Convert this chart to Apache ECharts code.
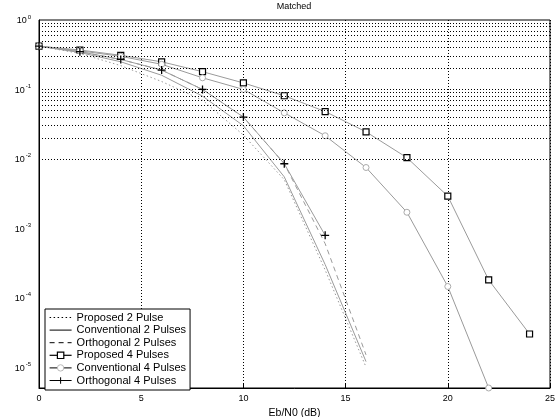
<!DOCTYPE html>
<html>
<head>
<meta charset="utf-8">
<script src="https://cdn.jsdelivr.net/npm/echarts@6/dist/echarts.min.js"></script>
<style>
  html, body { margin: 0; padding: 0; background: #fff; }
  #chart { width: 558px; height: 417px; }
</style>
</head>
<body>
<div id="chart"></div>
<script>
// Eb/N0 sample points (dB)
const snr2 = [0, 2, 4, 6, 8, 10, 12, 14, 16];
const snr4 = [0, 2, 4, 6, 8, 10, 12, 14, 16, 18, 20, 22, 24];

// Bit error rates, matched receiver
const proposed2 = [0.42, 0.33, 0.22, 0.13, 0.07, 0.022, 0.005, 2.5e-4, 1e-5];
const conventional2 = [0.42, 0.34, 0.25, 0.16, 0.08, 0.03, 0.0055, 3e-4, 1.2e-5];
const orthogonal2 = [0.42, 0.35, 0.27, 0.19, 0.10, 0.040, 0.0085, 6e-4, 1.5e-5];
const proposed4 = [0.42, 0.37, 0.31, 0.25, 0.18, 0.124, 0.081, 0.048, 0.0245, 0.0104, 0.0029, 1.8e-4, 3.0e-5];
const conventional4 = [0.42, 0.36, 0.30, 0.23, 0.147, 0.10, 0.046, 0.0215, 0.0075, 0.0017, 1.45e-4, 5e-6];
const orthogonal4 = [0.42, 0.35, 0.27, 0.19, 0.10, 0.040, 0.0085, 7.9e-4];

const seriesNames = ['Proposed 2 Pulse', 'Conventional 2 Pulses', 'Orthogonal 2 Pulses',
                     'Proposed 4 Pulses', 'Conventional 4 Pulses', 'Orthogonal 4 Pulses'];

// Axis ranges and tick labels
const yMin = 5e-6, yMax = 1;
const yDecadeExponents = ['0', '-1', '-2', '-3', '-4', '-5'];

// Horizontal grid values: every decade and the 2..9 steps between them
const hGrid = [];
for (let e = -6; e <= -1; e++) {
  for (let k = 1; k <= 9; k++) {
    const v = k * Math.pow(10, e);
    if (v >= yMin && v < yMax) hGrid.push(v);
  }
}

const pair = (xs, ys) => ys.map((y, i) => [xs[i], y]);

const curveColor = '#9a9a9a';
const gridDots = [1, 2];
const plusPath = 'path://M4.2,0H5.8V10H4.2Z M0,4.2H10V5.8H0Z';
const hiddenMarker = { color: 'rgba(0,0,0,0)', borderWidth: 0, opacity: 0 };

const chart = echarts.init(document.getElementById('chart'), null, { renderer: 'canvas' });

const baseLine = (name, data, type) => ({
  name, type: 'line', data,
  showSymbol: false, symbol: 'none',
  lineStyle: { color: curveColor, width: 1, type },
  itemStyle: { color: curveColor },
  z: 3, silent: true
});

chart.setOption({
  animation: false,
  textStyle: { fontFamily: 'Liberation Sans, Arial, sans-serif' },
  title: {
    text: 'Matched', left: 294, top: 2, padding: 0, textAlign: 'center',
    textStyle: { fontSize: 9, fontWeight: 'normal', color: '#000' }
  },
  grid: {
    left: 39, right: 8, top: 20, bottom: 29,
    outerBoundsMode: 'none', containLabel: false,
    show: true, borderColor: '#000', borderWidth: 1, backgroundColor: 'transparent'
  },
  legend: {
    orient: 'vertical', left: 45, top: 309,
    itemWidth: 22, itemHeight: 8, itemGap: 1.6,
    padding: [3, 4, 4, 4],
    backgroundColor: '#fff', borderColor: '#000', borderWidth: 1,
    textStyle: { fontSize: 11, lineHeight: 10, color: '#000' },
    data: [
      { name: seriesNames[0], lineStyle: { color: '#000', type: [1.5, 2.5], width: 1 }, itemStyle: hiddenMarker },
      { name: seriesNames[1], lineStyle: { color: '#000', width: 1 }, itemStyle: hiddenMarker },
      { name: seriesNames[2], lineStyle: { color: '#000', type: [5, 4], width: 1 }, itemStyle: hiddenMarker },
      { name: seriesNames[3], lineStyle: { color: '#000', width: 1.2 }, itemStyle: { color: '#fff', borderColor: '#000', borderWidth: 1.2 } },
      { name: seriesNames[4], lineStyle: { color: '#000', width: 1 }, itemStyle: { color: '#fff', borderColor: '#bbb', borderWidth: 1 } },
      { name: seriesNames[5], lineStyle: { color: '#000', width: 1 }, itemStyle: { color: '#000' } }
    ]
  },
  xAxis: {
    type: 'value', min: 0, max: 25, interval: 5,
    axisLine: { show: true, lineStyle: { color: '#000' } },
    axisTick: { show: true, inside: true, length: 4, lineStyle: { color: '#000' } },
    axisLabel: { fontSize: 9, color: '#000', margin: 6 },
    splitLine: { show: true, lineStyle: { color: '#000', type: gridDots, width: 1 } },
    name: 'Eb/N0 (dB)', nameLocation: 'middle', nameGap: 16,
    nameTextStyle: { fontSize: 10.5, color: '#000' }
  },
  yAxis: {
    type: 'log', logBase: 10, min: yMin, max: yMax,
    axisLine: { show: true, lineStyle: { color: '#000' } },
    axisTick: { show: false },
    splitLine: { show: false },
    axisLabel: {
      color: '#000', margin: 8,
      formatter: v => {
        const e = Math.log10(v);
        if (Math.abs(e - Math.round(e)) > 1e-6) return '';
        const idx = -Math.round(e);
        if (idx < 0 || idx >= yDecadeExponents.length) return '';
        return '{b|10}{s|' + yDecadeExponents[idx] + '}';
      },
      rich: {
        b: { fontSize: 9, color: '#000', padding: [2, 0, 0, 0] },
        s: { fontSize: 6, color: '#000', verticalAlign: 'top', padding: [0, 0, 6, 1] }
      }
    }
  },
  series: [
    {
      name: '_grid', type: 'line', data: [], silent: true, z: 1,
      markLine: {
        silent: true, symbol: 'none', animation: false,
        label: { show: false },
        lineStyle: { color: '#000', type: gridDots, width: 1 },
        data: hGrid.map(v => ({ yAxis: v }))
      }
    },
    baseLine(seriesNames[0], pair(snr2, proposed2), [1.5, 2.5]),
    baseLine(seriesNames[1], pair(snr2, conventional2), 'solid'),
    baseLine(seriesNames[2], pair(snr2, orthogonal2), [5, 4]),
    {
      name: seriesNames[3], type: 'line', data: pair(snr4, proposed4),
      symbol: 'rect', symbolSize: 6, showSymbol: true,
      lineStyle: { color: curveColor, width: 1 },
      itemStyle: { color: '#fff', borderColor: '#000', borderWidth: 1.2 },
      z: 4, silent: true
    },
    {
      name: seriesNames[4], type: 'line', data: pair(snr4, conventional4),
      symbol: 'circle', symbolSize: 6, showSymbol: true,
      lineStyle: { color: curveColor, width: 1 },
      itemStyle: { color: '#fff', borderColor: '#aaa', borderWidth: 1 },
      z: 4, silent: true
    },
    {
      name: seriesNames[5], type: 'line', data: pair(snr4, orthogonal4),
      symbol: plusPath, symbolSize: 8, showSymbol: true,
      lineStyle: { color: curveColor, width: 1 },
      itemStyle: { color: '#000' },
      z: 4, silent: true
    }
  ]
});
</script>
</body>
</html>
